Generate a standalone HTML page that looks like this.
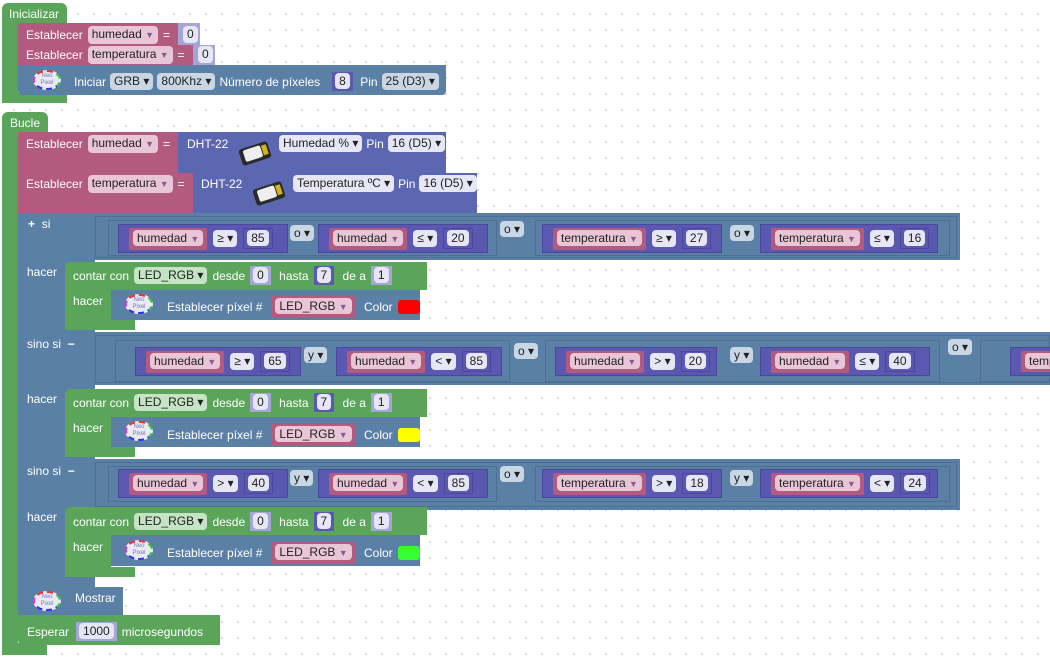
<!DOCTYPE html>
<html><head><meta charset="utf-8">
<style>
body{margin:0;width:1050px;height:657px;overflow:hidden;background:#fff;
background-image:radial-gradient(circle,#d8d8d8 1px,transparent 1.3px);background-size:16px 16px;background-position:6px 6px;
font-family:"Liberation Sans",sans-serif;font-size:12px;position:relative}
.a{position:absolute}
.g{background:#5ba55b}.p{background:#b35a80}.bl{background:#5b80a5}.dh{background:#5b67b0}.lv{background:#a5a5d6}
.w{color:#fff;position:absolute;white-space:nowrap}
.row{position:absolute;display:flex;align-items:center;gap:5px;white-space:nowrap;color:#fff}
.pl{background:#e6e6f4;color:#222;border-radius:4px;padding:1px 4px;line-height:15px}
.pk{background:#e9c6d6;color:#222;border-radius:4px;padding:1px 4px;line-height:15px}
.pb{background:#c9d6e4;color:#222;border-radius:4px;padding:1px 4px;line-height:15px}
.pg{background:#c5e3c5;color:#222;border-radius:4px;padding:1px 4px;line-height:15px}
.ar{color:#8a5a9a;font-size:9px}
.cmp{position:absolute;height:29px;background:#5a58b0;border:1px solid #4a489a;box-sizing:border-box;display:flex;align-items:center;gap:6px;padding-left:10px;white-space:nowrap}
.vb{background:#b35a80;padding:3px 4px;border-radius:2px}
.nb{background:#5a58b0;border:1px solid #4a489a;padding:2px 3px}
.out{position:absolute;border:1px solid #4d6f94;box-sizing:border-box}
.neo{position:absolute;width:28px;height:20px;border-radius:50%;background:#e8eaf5;border:2px dashed;border-color:#e33 #3c3 #33e #d3d;box-sizing:border-box;font-size:6px;color:#7a7ab0;text-align:center;line-height:7px;padding-top:1px}
.sw{display:inline-block;width:22px;height:14px;border-radius:3px}
.dht{position:absolute;width:30px;height:17px;background:#2a2a2a;transform:rotate(-18deg);border-radius:3px}
.dht i{position:absolute;left:4px;top:2px;width:18px;height:12px;background:#eee;border-radius:2px}
.dht b{position:absolute;right:2px;top:3px;width:5px;height:10px;background:#d9b020}
</style></head><body>

<!-- Inicializar -->
<div class="a g" style="left:2px;top:3px;width:65px;height:20px;border-radius:6px 6px 0 0"></div>
<div class="a g" style="left:2px;top:20px;width:16px;height:83px"></div>
<div class="a g" style="left:2px;top:93px;width:65px;height:10px;border-radius:0 0 0 6px"></div>
<div class="w" style="left:9px;top:7px">Inicializar</div>
<div class="a p" style="left:18px;top:23px;width:160px;height:22px"></div>
<div class="a lv" style="left:178px;top:23px;width:22px;height:22px"></div>
<div class="row" style="left:26px;top:26px">Establecer <span class="pk">humedad <span class="ar">▼</span></span> =</div>
<div class="row" style="left:183px;top:26px"><span class="pl">0</span></div>
<div class="a p" style="left:18px;top:45px;width:175px;height:20px"></div>
<div class="a lv" style="left:193px;top:45px;width:22px;height:20px"></div>
<div class="row" style="left:26px;top:46px">Establecer <span class="pk">temperatura <span class="ar">▼</span></span> =</div>
<div class="row" style="left:198px;top:46px"><span class="pl">0</span></div>
<div class="a bl" style="left:18px;top:65px;width:428px;height:30px;border-radius:0 0 4px 4px"></div>
<div class="neo" style="left:33px;top:70px">Neo<br>Pixel</div>
<div class="row" style="left:74px;top:72px;gap:4px">Iniciar <span class="pb">GRB ▾</span> <span class="pb">800Khz ▾</span> Número de píxeles <span style="background:#5a58b0;padding:2px 3px;margin-left:8px"><span class="pl">8</span></span> &nbsp;Pin <span class="pb">25 (D3) ▾</span></div>

<!-- Bucle -->
<div class="a g" style="left:2px;top:112px;width:46px;height:20px;border-radius:6px 6px 0 0"></div>
<div class="a g" style="left:2px;top:130px;width:16px;height:525px"></div>
<div class="a g" style="left:2px;top:643px;width:45px;height:12px;border-radius:0 0 0 6px"></div>
<div class="w" style="left:10px;top:116px">Bucle</div>

<div class="a p" style="left:18px;top:132px;width:160px;height:41px"></div>
<div class="a dh" style="left:178px;top:132px;width:268px;height:41px"></div>
<div class="row" style="left:26px;top:135px">Establecer <span class="pk">humedad <span class="ar">▼</span></span> =</div>
<div class="w" style="left:187px;top:137px">DHT-22</div>
<div class="dht" style="left:240px;top:145px"><i></i><b></b></div>
<div class="row" style="left:279px;top:135px;gap:4px"><span class="pl">Humedad % ▾</span> Pin <span class="pl">16 (D5) ▾</span></div>

<div class="a p" style="left:18px;top:173px;width:175px;height:40px"></div>
<div class="a dh" style="left:193px;top:173px;width:284px;height:40px"></div>
<div class="row" style="left:26px;top:175px">Establecer <span class="pk">temperatura <span class="ar">▼</span></span> =</div>
<div class="w" style="left:201px;top:177px">DHT-22</div>
<div class="dht" style="left:254px;top:185px"><i></i><b></b></div>
<div class="row" style="left:293px;top:175px;gap:4px"><span class="pl">Temperatura ºC ▾</span> Pin <span class="pl">16 (D5) ▾</span></div>

<!-- if block -->
<div class="a bl" style="left:18px;top:213px;width:77px;height:374px"></div>
<div class="a bl" style="left:18px;top:213px;width:942px;height:47px"></div>
<div class="a bl" style="left:18px;top:332px;width:1032px;height:53px"></div>
<div class="a bl" style="left:18px;top:459px;width:942px;height:51px"></div>
<div class="out" style="left:95px;top:216px;width:862px;height:42px"></div>
<div class="out" style="left:108px;top:220px;width:389px;height:36px"></div>
<div class="out" style="left:535px;top:220px;width:415px;height:36px"></div>
<div class="out" style="left:95px;top:335px;width:955px;height:48px"></div>
<div class="out" style="left:115px;top:340px;width:395px;height:42px"></div>
<div class="out" style="left:545px;top:340px;width:395px;height:42px"></div>
<div class="out" style="left:980px;top:340px;width:80px;height:42px"></div>
<div class="out" style="left:95px;top:462px;width:862px;height:45px"></div>
<div class="out" style="left:108px;top:466px;width:389px;height:36px"></div>
<div class="out" style="left:535px;top:466px;width:415px;height:36px"></div>

<div class="w" style="left:28px;top:217px;font-weight:bold">+ &nbsp;<span style="font-weight:normal">si</span></div>
<div class="w" style="left:27px;top:265px">hacer</div>
<div class="w" style="left:27px;top:337px">sino si &nbsp;<b>−</b></div>
<div class="w" style="left:27px;top:392px">hacer</div>
<div class="w" style="left:27px;top:464px">sino si &nbsp;<b>−</b></div>
<div class="w" style="left:27px;top:510px">hacer</div>

<!-- row1 comparisons -->
<div class="cmp" style="left:118px;top:224px;width:170px"><span class="vb"><span class="pk">humedad <span class="ar">▼</span></span></span><span class="pl">≥ ▾</span><span class="nb"><span class="pl">85</span></span></div>
<div class="w" style="left:290px;top:226px"><span class="pb">o ▾</span></div>
<div class="cmp" style="left:318px;top:224px;width:170px"><span class="vb"><span class="pk">humedad <span class="ar">▼</span></span></span><span class="pl">≤ ▾</span><span class="nb"><span class="pl">20</span></span></div>
<div class="w" style="left:500px;top:222px"><span class="pb">o ▾</span></div>
<div class="cmp" style="left:542px;top:224px;width:180px"><span class="vb"><span class="pk">temperatura <span class="ar">▼</span></span></span><span class="pl">≥ ▾</span><span class="nb"><span class="pl">27</span></span></div>
<div class="w" style="left:730px;top:226px"><span class="pb">o ▾</span></div>
<div class="cmp" style="left:760px;top:224px;width:178px"><span class="vb"><span class="pk">temperatura <span class="ar">▼</span></span></span><span class="pl">≤ ▾</span><span class="nb"><span class="pl">16</span></span></div>

<!-- row2 -->
<div class="cmp" style="left:135px;top:347px;width:166px"><span class="vb"><span class="pk">humedad <span class="ar">▼</span></span></span><span class="pl">≥ ▾</span><span class="nb"><span class="pl">65</span></span></div>
<div class="w" style="left:304px;top:348px"><span class="pb">y ▾</span></div>
<div class="cmp" style="left:336px;top:347px;width:166px"><span class="vb"><span class="pk">humedad <span class="ar">▼</span></span></span><span class="pl">&lt; ▾</span><span class="nb"><span class="pl">85</span></span></div>
<div class="w" style="left:514px;top:344px"><span class="pb">o ▾</span></div>
<div class="cmp" style="left:555px;top:347px;width:162px"><span class="vb"><span class="pk">humedad <span class="ar">▼</span></span></span><span class="pl">&gt; ▾</span><span class="nb"><span class="pl">20</span></span></div>
<div class="w" style="left:730px;top:348px"><span class="pb">y ▾</span></div>
<div class="cmp" style="left:760px;top:347px;width:170px"><span class="vb"><span class="pk">humedad <span class="ar">▼</span></span></span><span class="pl">≤ ▾</span><span class="nb"><span class="pl">40</span></span></div>
<div class="w" style="left:948px;top:340px"><span class="pb">o ▾</span></div>
<div class="cmp" style="left:1010px;top:347px;width:60px"><span class="vb"><span class="pk">temperatura</span></span></div>

<!-- row3 -->
<div class="cmp" style="left:118px;top:469px;width:170px"><span class="vb"><span class="pk">humedad <span class="ar">▼</span></span></span><span class="pl">&gt; ▾</span><span class="nb"><span class="pl">40</span></span></div>
<div class="w" style="left:290px;top:471px"><span class="pb">y ▾</span></div>
<div class="cmp" style="left:318px;top:469px;width:170px"><span class="vb"><span class="pk">humedad <span class="ar">▼</span></span></span><span class="pl">&lt; ▾</span><span class="nb"><span class="pl">85</span></span></div>
<div class="w" style="left:500px;top:467px"><span class="pb">o ▾</span></div>
<div class="cmp" style="left:542px;top:469px;width:180px"><span class="vb"><span class="pk">temperatura <span class="ar">▼</span></span></span><span class="pl">&gt; ▾</span><span class="nb"><span class="pl">18</span></span></div>
<div class="w" style="left:730px;top:471px"><span class="pb">y ▾</span></div>
<div class="cmp" style="left:760px;top:469px;width:178px"><span class="vb"><span class="pk">temperatura <span class="ar">▼</span></span></span><span class="pl">&lt; ▾</span><span class="nb"><span class="pl">24</span></span></div>

<!-- for loops -->
<div class="a g" style="left:65px;top:262px;width:362px;height:28px;border-radius:5px 0 0 0"></div>
<div class="a g" style="left:65px;top:288px;width:46px;height:42px;border-radius:0 0 0 5px"></div>
<div class="a g" style="left:65px;top:320px;width:70px;height:10px"></div>
<div class="a bl" style="left:111px;top:290px;width:309px;height:30px"></div>
<div class="row" style="left:73px;top:266px">contar con <span class="pg">LED_RGB ▾</span> desde <span style="background:#a5a5d6;padding:2px 3px"><span class="pl">0</span></span> &nbsp;hasta <span style="background:#5a58b0;padding:2px 3px"><span class="pl">7</span></span> &nbsp;de a <span style="background:#a5a5d6;padding:2px 3px"><span class="pl">1</span></span></div>
<div class="w" style="left:73px;top:294px">hacer</div>
<div class="neo" style="left:125px;top:294px">Neo<br>Pixel</div>
<div class="row" style="left:167px;top:296px">Establecer píxel # <span class="vb" style="margin-left:4px"><span class="pk">LED_RGB <span class="ar">▼</span></span></span> &nbsp;Color <span class="sw" style="background:#f00"></span></div>

<div class="a g" style="left:65px;top:389px;width:362px;height:28px;border-radius:5px 0 0 0"></div>
<div class="a g" style="left:65px;top:415px;width:46px;height:42px;border-radius:0 0 0 5px"></div>
<div class="a g" style="left:65px;top:447px;width:70px;height:10px"></div>
<div class="a bl" style="left:111px;top:417px;width:309px;height:30px"></div>
<div class="row" style="left:73px;top:393px">contar con <span class="pg">LED_RGB ▾</span> desde <span style="background:#a5a5d6;padding:2px 3px"><span class="pl">0</span></span> &nbsp;hasta <span style="background:#5a58b0;padding:2px 3px"><span class="pl">7</span></span> &nbsp;de a <span style="background:#a5a5d6;padding:2px 3px"><span class="pl">1</span></span></div>
<div class="w" style="left:73px;top:421px">hacer</div>
<div class="neo" style="left:125px;top:421px">Neo<br>Pixel</div>
<div class="row" style="left:167px;top:424px">Establecer píxel # <span class="vb" style="margin-left:4px"><span class="pk">LED_RGB <span class="ar">▼</span></span></span> &nbsp;Color <span class="sw" style="background:#ff0"></span></div>

<div class="a g" style="left:65px;top:507px;width:362px;height:28px;border-radius:5px 0 0 0"></div>
<div class="a g" style="left:65px;top:533px;width:46px;height:44px;border-radius:0 0 0 5px"></div>
<div class="a g" style="left:65px;top:567px;width:70px;height:10px"></div>
<div class="a bl" style="left:111px;top:535px;width:309px;height:31px"></div>
<div class="row" style="left:73px;top:512px">contar con <span class="pg">LED_RGB ▾</span> desde <span style="background:#a5a5d6;padding:2px 3px"><span class="pl">0</span></span> &nbsp;hasta <span style="background:#5a58b0;padding:2px 3px"><span class="pl">7</span></span> &nbsp;de a <span style="background:#a5a5d6;padding:2px 3px"><span class="pl">1</span></span></div>
<div class="w" style="left:73px;top:540px">hacer</div>
<div class="neo" style="left:125px;top:540px">Neo<br>Pixel</div>
<div class="row" style="left:167px;top:542px">Establecer píxel # <span class="vb" style="margin-left:4px"><span class="pk">LED_RGB <span class="ar">▼</span></span></span> &nbsp;Color <span class="sw" style="background:#3f3"></span></div>

<!-- Mostrar / Esperar -->
<div class="a bl" style="left:18px;top:587px;width:105px;height:28px"></div>
<div class="neo" style="left:33px;top:591px">Neo<br>Pixel</div>
<div class="w" style="left:75px;top:591px">Mostrar</div>
<div class="a g" style="left:18px;top:615px;width:202px;height:30px;border-radius:0 0 0 5px"></div>
<div class="row" style="left:27px;top:622px">Esperar <span style="background:#a5a5d6;padding:2px 3px;margin-left:2px"><span class="pl">1000</span></span> microsegundos</div>

</body></html>
